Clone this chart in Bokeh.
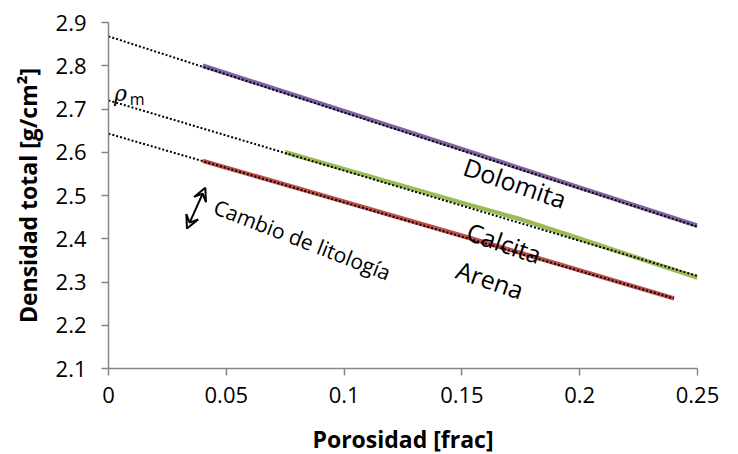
from bokeh.plotting import figure
from bokeh.models import Range1d, FixedTicker, Arrow, VeeHead
from bokeh.core.properties import value
from bokeh.embed import file_html
from bokeh.resources import INLINE

# Data
dolomita_x = [0.04, 0.10, 0.15, 0.20, 0.25]
dolomita_y = [2.800, 2.695, 2.607, 2.518, 2.430]
calcita_x = [0.075, 0.10, 0.15, 0.175, 0.20, 0.25]
calcita_y = [2.600, 2.561, 2.483, 2.445, 2.400, 2.310]
arena_x = [0.04, 0.10, 0.15, 0.20, 0.24]
arena_y = [2.580, 2.486, 2.407, 2.327, 2.262]

# Extended (dotted) trend lines
dolomita_trend_x = [0.0, 0.25]
dolomita_trend_y = [2.868, 2.428]
calcita_trend_x = [0.0, 0.25]
calcita_trend_y = [2.720, 2.314]
arena_trend_x = [0.0, 0.24]
arena_trend_y = [2.643, 2.262]

x_ticks = [0, 0.05, 0.1, 0.15, 0.2, 0.25]
x_tick_labels = ["0", "0.05", "0.1", "0.15", "0.2", "0.25"]
y_ticks = [2.1, 2.2, 2.3, 2.4, 2.5, 2.6, 2.7, 2.8, 2.9]
y_tick_labels = ["2.1", "2.2", "2.3", "2.4", "2.5", "2.6", "2.7", "2.8", "2.9"]

FONT = "Open Sans"

p = figure(frame_width=589, frame_height=346, output_backend="svg",
           toolbar_location=None, x_range=Range1d(0, 0.25), y_range=Range1d(2.1, 2.9),
           min_border_left=108, min_border_right=41, min_border_top=22, min_border_bottom=86)
p.outline_line_color = None
p.xgrid.visible = False
p.ygrid.visible = False
p.background_fill_color = "white"
p.border_fill_color = "white"

for ax in (p.xaxis[0], p.yaxis[0]):
    ax.axis_line_color = "#868686"
    ax.axis_line_width = 1.5
    ax.major_tick_line_color = "#868686"
    ax.major_tick_line_width = 1.5
    ax.major_tick_in = 0
    ax.major_tick_out = 7
    ax.minor_tick_line_color = None
    ax.major_label_text_font = FONT
    ax.major_label_text_font_size = "22px"
    ax.major_label_text_color = "black"
    ax.axis_label_text_font = FONT
    ax.axis_label_text_font_size = "23px"
    ax.axis_label_text_font_style = "bold"
    ax.axis_label_text_color = "black"

p.xaxis.ticker = FixedTicker(ticks=x_ticks)
p.xaxis.major_label_overrides = {t: l for t, l in zip(x_ticks, x_tick_labels)}
p.yaxis.ticker = FixedTicker(ticks=y_ticks)
p.yaxis.major_label_overrides = {t: l for t, l in zip(y_ticks, y_tick_labels)}
p.xaxis.axis_label = "Porosidad [frac]"
p.yaxis.axis_label = "Densidad total [g/cm²]"
p.xaxis.major_label_standoff = 11
p.xaxis.axis_label_standoff = 17
p.yaxis.major_label_standoff = 15
p.yaxis.axis_label_standoff = 9

# coloured data lines
p.line(dolomita_x, dolomita_y, line_color="#8064A2", line_width=4.5)
p.line(calcita_x, calcita_y, line_color="#9BBB59", line_width=4.5)
p.line(arena_x, arena_y, line_color="#C0504D", line_width=4.5)

# dotted trend lines
for tx, ty in ((dolomita_trend_x, dolomita_trend_y),
               (calcita_trend_x, calcita_trend_y),
               (arena_trend_x, arena_trend_y)):
    p.line(tx, ty, line_color="black", line_width=2, line_dash="2 2")

ang = -0.33
p.text(x=[0.1726], y=[2.530], text=["Dolomita"], angle=ang, text_align="center",
       text_baseline="middle", text_font=value(FONT), text_font_size="25px", text_color="black")
p.text(x=[0.168], y=[2.391], text=["Calcita"], angle=ang, text_align="center",
       text_baseline="middle", text_font=value(FONT), text_font_size="25px", text_color="black")
p.text(x=[0.162], y=[2.306], text=["Arena"], angle=ang, text_align="center",
       text_baseline="middle", text_font=value(FONT), text_font_size="25px", text_color="black")
p.text(x=[0.0823], y=[2.398], text=["Cambio de litología"], angle=-0.37, text_align="center",
       text_baseline="middle", text_font=value(FONT), text_font_size="21px", text_color="black")

p.text(x=[0.0051], y=[2.735], text=["ρ"], text_align="center", text_baseline="middle",
       text_font=value("DejaVu Serif"), text_font_style="italic", text_font_size="22px",
       text_color="black")
p.text(x=[0.0122], y=[2.722], text=["m"], text_align="center", text_baseline="middle",
       text_font=value(FONT), text_font_size="16px", text_color="black")

p.add_layout(Arrow(x_start=0.0333, y_start=2.4235, x_end=0.0411, y_end=2.518,
                   line_color="black", line_width=2,
                   start=VeeHead(size=13, line_color="black", line_width=2, fill_color=None),
                   end=VeeHead(size=13, line_color="black", line_width=2, fill_color=None)))

open("out.html", "w").write(file_html(p, INLINE))
